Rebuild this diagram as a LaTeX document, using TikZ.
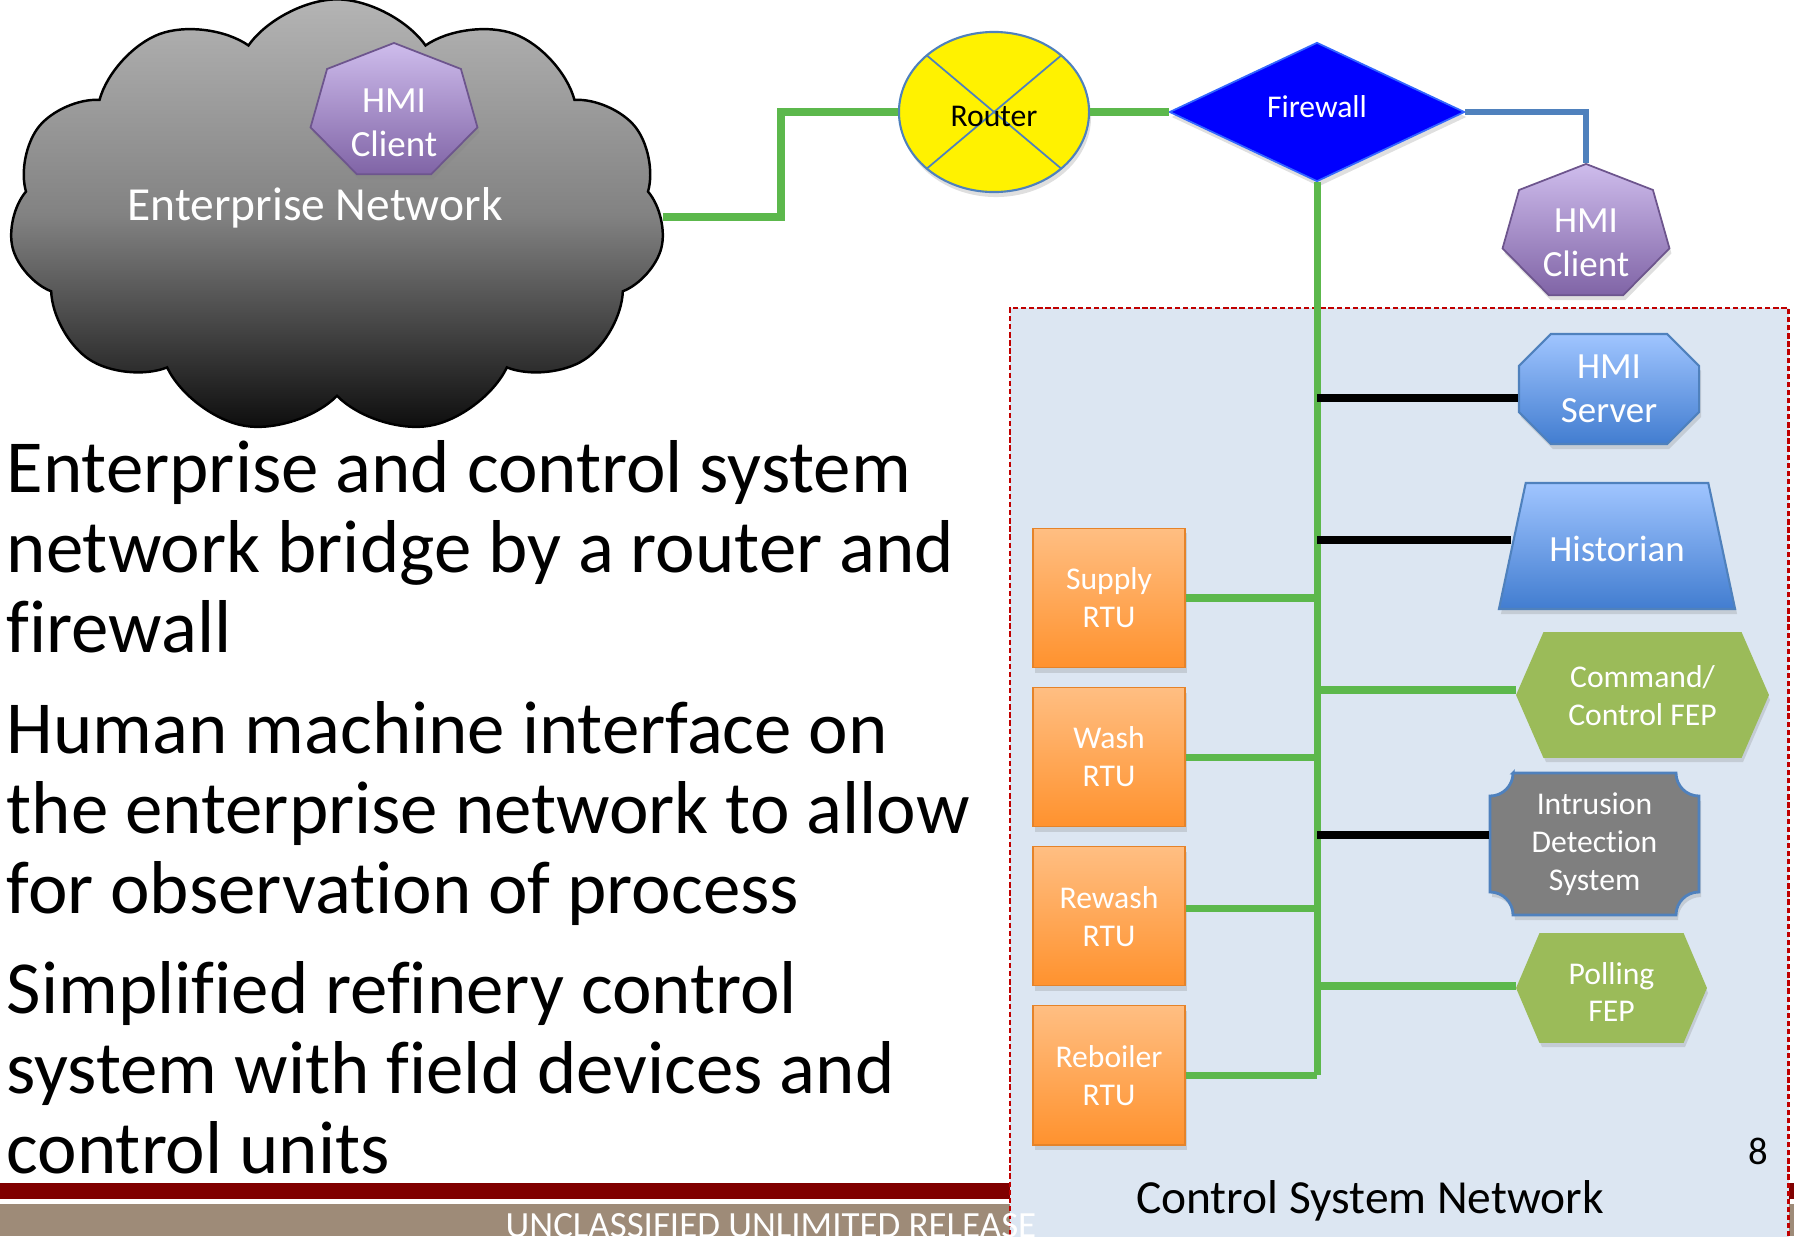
\documentclass[tikz,border=0pt]{standalone}
\usepackage{fontspec}
\setmainfont{Carlito}[Ligatures={NoCommon}]
\usepackage{tikz}
\usetikzlibrary{positioning,shapes.geometric,shapes.symbols,shapes.misc,shadows}

\definecolor{netgreen}{RGB}{92,184,76}
\definecolor{linkblue}{RGB}{79,129,189}
\definecolor{csnfill}{RGB}{220,230,242}
\definecolor{csnred}{RGB}{192,0,0}
\definecolor{barred}{RGB}{128,0,0}
\definecolor{bartan}{RGB}{158,139,120}
\definecolor{fepgreen}{RGB}{155,187,89}
\definecolor{idsgray}{RGB}{127,127,127}
\definecolor{fwblue}{RGB}{0,0,255}
\definecolor{fwedge}{RGB}{51,102,255}
\definecolor{purpletop}{RGB}{206,188,236}
\definecolor{purplebot}{RGB}{128,100,166}
\definecolor{bluetop}{RGB}{160,197,255}
\definecolor{bluebot}{RGB}{66,125,208}
\definecolor{orangetop}{RGB}{255,190,130}
\definecolor{orangebot}{RGB}{255,146,46}
\definecolor{cloudtop}{RGB}{180,180,180}
\definecolor{cloudmid}{RGB}{130,130,130}
\definecolor{cloudbot}{RGB}{12,12,12}

\tikzset{%
	greenline/.style = {netgreen, line width=2pt},
	blackline/.style = {black, line width=2.5pt},
	blueline/.style  = {linkblue, line width=1.8pt},
	waypoint/.style  = {coordinate},
	shadowed/.style  = {drop shadow={shadow xshift=0.02cm, shadow yshift=-0.05cm, opacity=0.25}},
	smalltext/.style = {text=white, align=center, font=\fontsize{9}{10.8}\selectfont},
	midtext/.style   = {text=white, align=center, font=\fontsize{10.5}{12.6}\selectfont},
	bigtext/.style   = {font=\fontsize{13.5}{16}\selectfont},
	bodytext/.style  = {inner sep=0, font=\fontsize{21.3}{22.8}\selectfont},
}
\tikzset{%
	cloudshape/.style = {cloud, cloud puffs=11, cloud puff arc=110, aspect=1.55, minimum width=6.55cm, minimum height=4.35cm, inner sep=0, draw=black, line width=0.7pt, top color=cloudtop, bottom color=cloudbot, middle color=cloudmid},
	hmiclient/.style  = {regular polygon, regular polygon sides=7, minimum size=1.38cm, inner sep=0, xscale=1.24, transform shape, draw=purplebot!85!black, line width=0.5pt, top color=purpletop, bottom color=purplebot, shadowed},
	routershape/.style= {ellipse, minimum width=1.9cm, minimum height=1.6cm, inner sep=0, text height=0.29cm, fill=yellow, draw=linkblue, line width=0.6pt, shadowed, font=\fontsize{9}{10.8}\selectfont,
		path picture={\draw[linkblue, line width=0.5pt] (path picture bounding box.north west) -- (path picture bounding box.south east) (path picture bounding box.north east) -- (path picture bounding box.south west);}},
	fwshape/.style    = {diamond, minimum width=2.95cm, minimum height=1.39cm, inner sep=0, text depth=0.1cm, fill=fwblue, draw=fwedge, line width=0.5pt, shadowed, smalltext},
	csnbox/.style     = {rectangle, minimum width=7.78cm, minimum height=9.5cm, inner sep=0, fill=csnfill, draw=csnred, line width=0.6pt, dash pattern=on 1.5pt off 0.8pt},
	hmiserver/.style  = {chamfered rectangle, chamfered rectangle xsep=0.15cm, chamfered rectangle ysep=0.17cm, minimum width=1.8cm, minimum height=1.1cm, inner sep=0, top color=bluetop, bottom color=bluebot, draw=linkblue, line width=0.6pt, shadowed, midtext},
	historian/.style  = {trapezium, trapezium left angle=78, trapezium right angle=78, trapezium stretches body=true, minimum width=2.36cm, text height=0.3cm, text depth=0cm, inner xsep=0, inner ysep=0.48cm, top color=bluetop, bottom color=bluebot, draw=linkblue, line width=0.6pt, shadowed, midtext},
	fepshape/.style   = {fill=fepgreen, draw=fepgreen, line width=0.5pt, shadowed},
	idsshape/.style   = {fill=idsgray, draw=linkblue, line width=0.8pt, shadowed},
	rtu/.style        = {rectangle, minimum width=1.52cm, minimum height=1.39cm, inner sep=0, draw=orangebot!90!black, line width=0.4pt, top color=orangetop, bottom color=orangebot, shadowed, smalltext},
}

\begin{document}
\begin{tikzpicture}[x=0.01cm, y=0.01cm, node distance=1.59cm]
	\useasboundingbox (0,0) rectangle (1794,-1236);
	% footer bars
	\fill[barred] (0,-1183) rectangle (1794,-1199);
	\fill[bartan] (0,-1204) rectangle (1794,-1236);
	
	% control system network
	\node[csnbox, anchor=north west] (csn) at (1009,-307) {};
	
	% enterprise side
	\node[cloudshape] (cloud) at (337,-217) {};
	\node[hmiclient] (hmiA) at (394,-112) {};
	\node[midtext] (hmiAtxt) at (394,-123) {HMI\\Client};
	\node[bigtext, text=white, anchor=base] (entnet) at (315,-220) {Enterprise Network};
	\node[waypoint] (wp1) at (781,-112) {};
	\node[routershape] (router) at (994,-112) {Router};
	\node[fwshape] (fw) at (1317,-112) {Firewall};
	\node[hmiclient] (hmiB) at (1586,-233) {};
	\node[midtext] (hmiBtxt) at (1586,-243) {HMI\\Client};
	
	% control side
	\node[hmiserver] (hmiS) at (1609,-389) {HMI\\Server};
	\node[historian] (hist) at (1617,-546) {Historian};
	\filldraw[fepshape] (1517,-695) -- (1544,-633) -- (1741,-633) -- (1768,-695) -- (1741,-757) -- (1544,-757) -- cycle;
	\node[smalltext, minimum width=2.51cm, inner sep=0] (cmd) at (1642.5,-696) {Command/\\Control FEP};
	\filldraw[idsshape] (1513,-773) -- (1676,-773) arc[start angle=180, end angle=270, radius=0.23cm]
		-- (1699,-892) arc[start angle=90, end angle=180, radius=0.23cm]
		-- (1513,-915) arc[start angle=0, end angle=90, radius=0.23cm]
		-- (1490,-796) arc[start angle=270, end angle=360, radius=0.23cm] -- cycle;
	\node[smalltext, minimum width=2.09cm, minimum height=1.42cm, inner sep=0] (ids) at (1594.5,-844) {Intrusion\\Detection\\System};
	\filldraw[fepshape] (1517,-988) -- (1540,-934) -- (1683,-934) -- (1706,-988) -- (1683,-1042) -- (1540,-1042) -- cycle;
	\node[smalltext, minimum width=1.89cm, inner sep=0] (poll) at (1611.5,-992) {Polling\\FEP};
	\node[rtu] (supply) at (1109,-598) {Supply\\RTU};
	\node[rtu, below of=supply] (wash) {Wash\\RTU};
	\node[rtu, below of=wash] (rewash) {Rewash\\RTU};
	\node[rtu, below of=rewash] (reboiler) {Reboiler\\RTU};
	
	\draw[greenline] (cloud.east) -| (wp1) -- (router.west);
	\draw[greenline] (router.east) -- (fw.west);
	\draw[blueline] (fw.east) -| (hmiB.north);
	\draw[greenline] (fw.south) -- (reboiler.east -| fw.south);
	\foreach \n/\dy in {supply/0cm,wash/0cm,rewash/0.08cm,reboiler/0cm}
		\draw[greenline] ([yshift=\dy]\n.east) -- ([yshift=\dy]\n.east -| fw.south);
	\foreach \n/\dy in {cmd/0.06cm,poll/0.06cm}
		\draw[greenline] ([yshift=\dy]\n.west) -- ([yshift=\dy]\n.west -| fw.south);
	\foreach \n/\dy in {hmiS/-0.09cm,hist/0.06cm,ids/0.09cm}
		\draw[blackline] ([yshift=\dy]\n.west) -- ([yshift=\dy]\n.west -| fw.south);
	
	\node[bigtext, anchor=base] (csnlabel) at (1370,-1213) {Control System Network};
	\node[font=\fontsize{11}{13}\selectfont] (pagenum) at (1758,-1151) {8};
	
	% bullet text
	\foreach \y/\txt [count=\i] in {492/Enterprise and control system, 572/network bridge by a router and, 652/firewall,
		753/Human machine interface on, 833/the enterprise network to allow, 913/for observation of process,
		1013/Simplified refinery control, 1093/system with field devices and, 1173/control units}
		\node[bodytext, anchor=base west] (line\i) at (6,-\y) {\txt};
	
	\node[text=white, font=\fontsize{10.5}{12.6}\selectfont, anchor=base] (footer) at (771,-1237) {UNCLASSIFIED UNLIMITED RELEASE};
\end{tikzpicture}
\end{document}
